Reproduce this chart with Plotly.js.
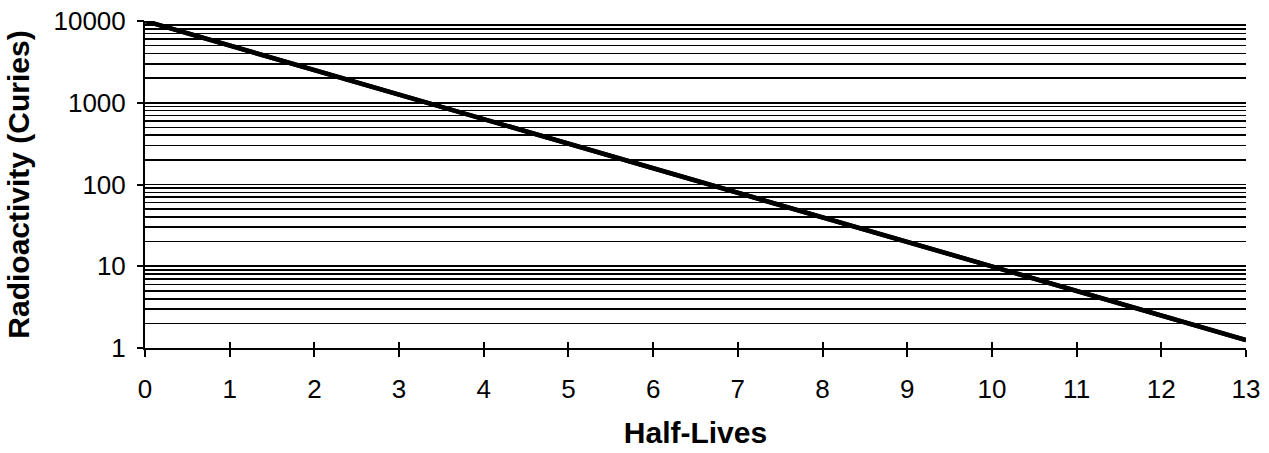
<!DOCTYPE html>
<html>
<head>
<meta charset="utf-8">
<script src="https://cdn.plot.ly/plotly-3.0.1.min.js"></script>
<style>html,body{margin:0;padding:0;background:#fff;}#chart{width:1269px;height:453px;}</style>
</head>
<body>
<div id="chart"></div>
<script>
// Data
const halfLives = [0, 1, 2, 3, 4, 5, 6, 7, 8, 9, 10, 11, 12, 13];
const curies = [10000, 5000, 2500, 1250, 625, 312, 156, 78, 39, 19.5, 9.8, 4.9, 2.45, 1.25];
const xTicks = [0, 1, 2, 3, 4, 5, 6, 7, 8, 9, 10, 11, 12, 13];
const yDecades = [1, 10, 100, 1000, 10000];
const yDecadeLabels = ['1', '10', '100', '1000', '10000'];
const yGridMultipliers = [1, 2, 3, 4, 5, 6, 7, 8, 9];

const yGridVals = [];
yDecades.forEach(d => {
  if (d === 10000) { yGridVals.push(d); return; }
  yGridMultipliers.forEach(m => yGridVals.push(d * m));
});

const font = 'Liberation Sans, Arial, sans-serif';

const traces = [
  {x: halfLives, y: curies, xaxis: 'x', yaxis: 'y', mode: 'lines',
   line: {color: '#000', width: 4.5}, hoverinfo: 'skip', showlegend: false},
  {x: halfLives, y: curies, xaxis: 'x2', yaxis: 'y2', mode: 'lines',
   line: {color: '#000', width: 4.5}, showlegend: false}
];

const layout = {
  width: 1269, height: 453,
  margin: {l: 145, r: 23, t: 21, b: 105},
  paper_bgcolor: '#fff', plot_bgcolor: '#fff',
  font: {family: font, color: '#000', size: 26},
  showlegend: false,
  xaxis: {
    range: [0, 13], tickmode: 'array', tickvals: xTicks,
    ticks: 'outside', ticklen: 7, tickwidth: 2, tickcolor: '#000',
    showline: true, linecolor: '#000', linewidth: 2,
    showgrid: false, zeroline: false,
    tickfont: {family: font, size: 26, color: '#000'},
    ticklabelstandoff: 10,
    title: {text: 'Half-Lives', font: {family: font, size: 30, color: '#000', weight: 'bold'}, standoff: 19},
    automargin: false
  },
  yaxis: {
    type: 'log', range: [0, 4], tickmode: 'array', tickvals: yGridVals,
    showticklabels: false, ticks: '',
    showgrid: true, gridcolor: '#000', gridwidth: 1.6,
    showline: true, linecolor: '#000', linewidth: 2, zeroline: false,
    automargin: false
  },
  xaxis2: {
    overlaying: 'x', anchor: 'y2', range: [0, 13], tickmode: 'array', tickvals: xTicks,
    ticks: 'inside', ticklen: 6, tickwidth: 2, tickcolor: '#000',
    showticklabels: false, showgrid: false, showline: false, zeroline: false
  },
  yaxis2: {
    overlaying: 'y', anchor: 'x2', side: 'left', type: 'log', range: [0, 4],
    tickmode: 'array', tickvals: yDecades, ticktext: yDecadeLabels,
    ticks: 'outside', ticklen: 7, tickwidth: 2, tickcolor: '#000',
    showgrid: false, showline: false, zeroline: false,
    tickfont: {family: font, size: 26, color: '#000'},
    ticklabelstandoff: 6,
    title: {text: 'Radioactivity (Curies)', font: {family: font, size: 30, color: '#000', weight: 'bold'}, standoff: 14},
    automargin: false
  }
};

Plotly.newPlot('chart', traces, layout, {displayModeBar: false, staticPlot: true});
</script>
</body>
</html>
